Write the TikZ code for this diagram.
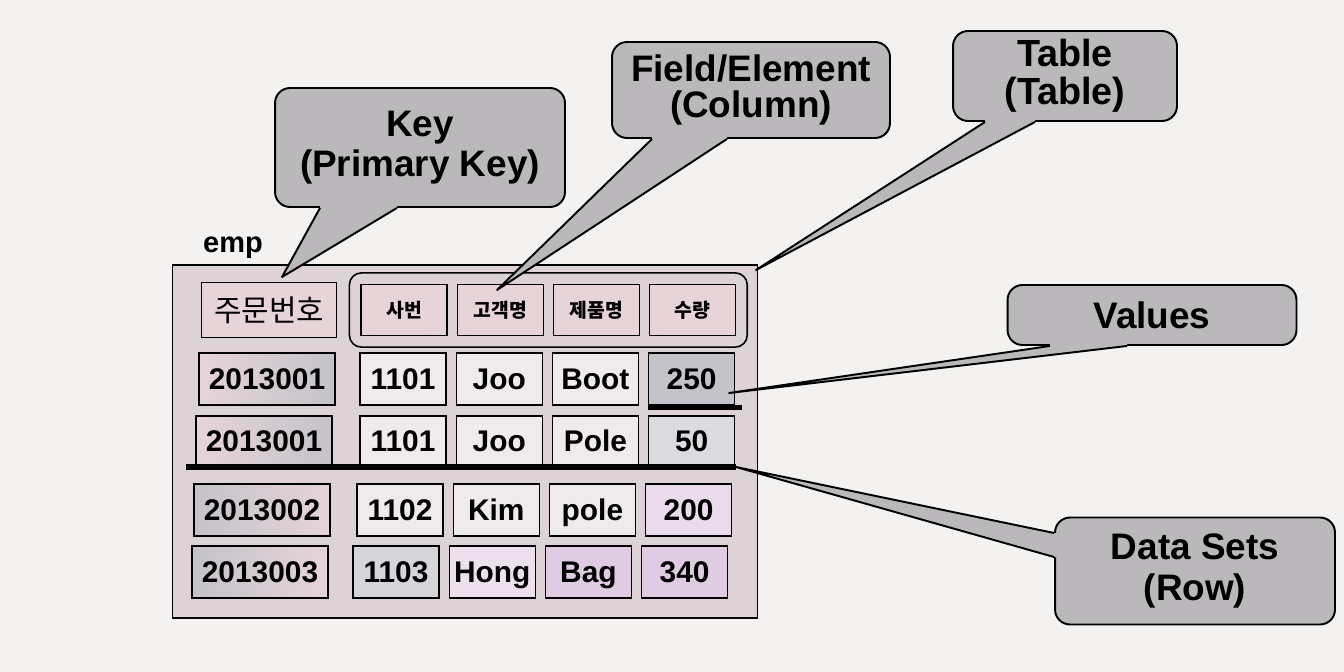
\documentclass[tikz,border=0pt]{standalone}
\usepackage{fontspec}
\setmainfont{Liberation Sans}
\newfontfamily\kr{Noto Sans CJK KR}
\usetikzlibrary{chains,fit,positioning,calc}
\definecolor{paper}{RGB}{243,242,240}
\definecolor{tablebg}{RGB}{221,211,215}
\definecolor{callgray}{RGB}{186,184,186}
\definecolor{cellpink}{RGB}{230,212,216}
\definecolor{cellgray}{RGB}{196,195,201}
\definecolor{cellwhite}{RGB}{239,235,237}
\definecolor{celllilac}{RGB}{224,204,226}
\tikzstyle{cell}=[draw,line width=0.7pt,fill=cellwhite,minimum width=1.72cm,minimum height=1.04cm,inner sep=0pt,text height=12.5pt,text depth=0.5pt,font=\fontsize{17}{19}\selectfont\bfseries]
\tikzstyle{keycell}=[cell,minimum width=2.72cm,left color=cellpink,right color=cellgray]
\tikzstyle{colhead}=[cell,fill=cellpink,minimum height=1.02cm,text height=9pt,text depth=1pt,font=\fontsize{11}{12}\selectfont\kr\bfseries]
\tikzstyle{callout}=[draw,line width=1.1pt,fill=callgray,rounded corners=0.3cm,align=center,inner sep=0pt,font=\fontsize{21}{23}\selectfont\bfseries]
\tikzstyle{tail}=[fill=callgray]
\tikzstyle{tailedge}=[line width=1.1pt,line join=round]
\tikzstyle{rowline}=[line width=3.2pt]

\begin{document}
\begin{tikzpicture}[x=0.02cm,y=-0.02cm]
\fill[paper] (0,0) rectangle (1344,672);
\useasboundingbox (0,0) rectangle (1344,672);

% the table itself
\node (emp) [draw,line width=0.8pt,fill=tablebg,minimum width=11.7cm,minimum height=7.06cm,inner sep=0pt] at (465,441.5) {};
\node (emptitle) [anchor=base west,font=\fontsize{16.5}{18}\selectfont\bfseries] at (197,252) {emp};

\node (h0) [cell,fill=cellpink,minimum width=2.7cm,minimum height=1.1cm,text height=14pt,text depth=1pt,font=\fontsize{17}{18}\selectfont\kr] at (269,310) {주문번호};
\begin{scope}[start chain=hrow going right,node distance=0.18cm]
    \node (h1) [on chain=hrow,colhead] at (404,310) {사번};
    \node (h2) [on chain=hrow,colhead] {고객명};
    \node (h3) [on chain=hrow,colhead] {제품명};
    \node (h4) [on chain=hrow,colhead] {수량};
\end{scope}
\node (grp) [draw,line width=0.9pt,rounded corners=0.24cm,inner sep=0.22cm,fit=(h1)(h4)] {};

\node (r1k) [keycell] at (267,379) {2013001};
\begin{scope}[start chain=row1 going right,node distance=0.18cm]
    \node (r1a) [on chain=row1,cell] at (403,379) {1101};
    \node (r1b) [on chain=row1,cell] {Joo};
    \node (r1c) [on chain=row1,cell] {Boot};
    \node (r1d) [on chain=row1,cell,fill=cellgray] {250};
\end{scope}

\node (r2k) [keycell,minimum height=1.0cm] at (264,441) {2013001};
\begin{scope}[start chain=row2 going right,node distance=0.18cm]
    \node (r2a) [on chain=row2,cell,minimum height=1.0cm] at (403,441) {1101};
    \node (r2b) [on chain=row2,cell,minimum height=1.0cm] {Joo};
    \node (r2c) [on chain=row2,cell,minimum height=1.0cm] {Pole};
    \node (r2d) [on chain=row2,cell,minimum height=1.0cm,fill=cellgray!60] {50};
\end{scope}

\node (r3k) [keycell,left color=cellgray,right color=cellpink] at (262,510) {2013002};
\begin{scope}[start chain=row3 going right,node distance=0.18cm]
    \node (r3a) [on chain=row3,cell] at (400,510) {1102};
    \node (r3b) [on chain=row3,cell] {Kim};
    \node (r3c) [on chain=row3,cell] {pole};
    \node (r3d) [on chain=row3,cell,fill=celllilac!70] {200};
\end{scope}

\node (r4k) [keycell,left color=cellgray,right color=cellpink] at (260,572) {2013003};
\begin{scope}[start chain=row4 going right,node distance=0.18cm]
    \node (r4a) [on chain=row4,cell,fill=cellgray!70] at (396,572) {1103};
    \node (r4b) [on chain=row4,cell,fill=celllilac!60] {Hong};
    \node (r4c) [on chain=row4,cell,fill=celllilac] {Bag};
    \node (r4d) [on chain=row4,cell,fill=celllilac] {340};
\end{scope}

% row and value marks
\coordinate (rowstart) at (186,467);
\coordinate (rowend) at (736,467);
\draw[rowline] (rowstart) -- (rowend);
\draw[rowline] ($(r1d.south west)+(0,2)$) -- ($(r1d.south east)+(7,2)$);

% callouts
\coordinate (keytip) at (282,277);
\coordinate (fieldtip) at (497,290);
\coordinate (tbltip) at (756,270);
\coordinate (valtip) at (729,393);

\node (key) [callout,minimum width=5.8cm,minimum height=2.38cm] at (420,147.5) {Key\\(Primary Key)};
\fill[tail] ($(key.south)+(-100,-3)$) -- ($(key.south)+(-100,0)$) -- (keytip) -- ($(key.south)+(-23,0)$) -- ($(key.south)+(-23,-3)$) -- cycle;
\draw[tailedge] ($(key.south)+(-100,0)$) -- (keytip) -- ($(key.south)+(-23,0)$);

\node (field) [callout,minimum width=5.56cm,minimum height=1.92cm,font=\fontsize{21}{21}\selectfont\bfseries] at (751,90) {Field/Element\\(Column)};
\fill[tail] ($(field.south)+(-99,-3)$) -- ($(field.south)+(-99,0)$) -- (fieldtip) -- ($(field.south)+(-24,0)$) -- ($(field.south)+(-24,-3)$) -- cycle;
\draw[tailedge] ($(field.south)+(-99,0)$) -- (fieldtip) -- ($(field.south)+(-24,0)$);

\node (tblnote) [callout,minimum width=4.48cm,minimum height=1.8cm,font=\fontsize{21.5}{21.5}\selectfont\bfseries] at (1065,76) {Table\\(Table)};
\fill[tail] ($(tblnote.south)+(-80,-3)$) -- ($(tblnote.south)+(-80,0)$) -- (tbltip) -- ($(tblnote.south)+(-30,0)$) -- ($(tblnote.south)+(-30,-3)$) -- cycle;
\draw[tailedge] ($(tblnote.south)+(-80,0)$) -- (tbltip) -- ($(tblnote.south)+(-30,0)$);

\node (values) [callout,minimum width=5.78cm,minimum height=1.2cm] at (1152,315) {Values};
\fill[tail] ($(values.south)+(-102,-3)$) -- ($(values.south)+(-102,0)$) -- (valtip) -- ($(values.south)+(-25,0)$) -- ($(values.south)+(-25,-3)$) -- cycle;
\draw[tailedge] ($(values.south)+(-102,0)$) -- (valtip) -- ($(values.south)+(-25,0)$);

\node (datasets) [callout,minimum width=5.6cm,minimum height=2.14cm] at (1195,571) {Data Sets\\(Row)};
\fill[tail] ($(datasets.west)+(3,-38)$) -- ($(datasets.west)+(0,-38)$) -- (rowend) -- ($(datasets.west)+(0,-14)$) -- ($(datasets.west)+(3,-14)$) -- cycle;
\draw[tailedge] ($(datasets.west)+(0,-38)$) -- (rowend) -- ($(datasets.west)+(0,-14)$);
\end{tikzpicture}
\end{document}
